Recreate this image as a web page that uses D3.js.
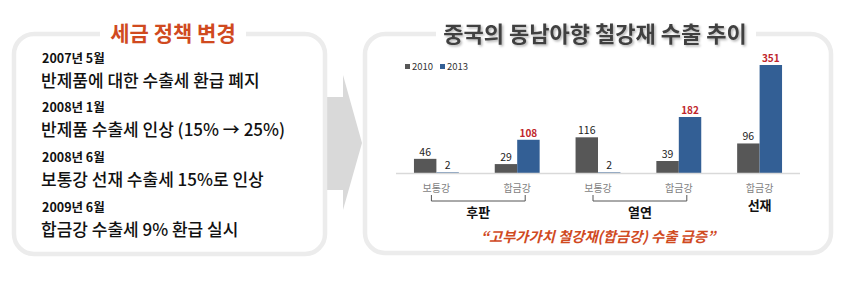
<!DOCTYPE html>
<html><head><meta charset="utf-8">
<script src="https://cdn.jsdelivr.net/npm/d3@7"></script>
<style>
body{margin:0;background:#fff;}
svg{display:block;font-family:"Noto Sans CJK KR","Noto Sans",sans-serif;}
</style></head>
<body>
<svg id="c" width="845" height="281"></svg>
<script>
// ---- data ----
const policyDates = ["2007년 5월","2008년 1월","2008년 6월","2009년 6월"];
const policyTexts = ["반제품에 대한 수출세 환급 폐지","반제품 수출세 인상 (15% → 25%)","보통강 선재 수출세 15%로 인상","합금강 수출세 9% 환급 실시"];
const categories = ["보통강","합금강","보통강","합금강","합금강"];
const groupNames = ["후판","열연","선재"];
const series = ["2010","2013"];
const values2010 = [46,29,116,39,96];
const values2013 = [2,108,2,182,351];

const svg = d3.select("#c");
const red = "#d04a1f";

const defs = svg.append("defs");
defs.append("filter").attr("id","sh").attr("x","-10%").attr("y","-30%").attr("width","120%").attr("height","160%")
  .append("feDropShadow").attr("dx",1.5).attr("dy",1.5).attr("stdDeviation",1).attr("flood-color","#000").attr("flood-opacity",0.3);

// boxes
function box(x,y,w,h){
  svg.append("rect").attr("x",x).attr("y",y).attr("width",w).attr("height",h)
    .attr("rx",20).attr("fill","#fff").attr("stroke","#ececec").attr("stroke-width",4.5);
}
// arrow
svg.append("path").attr("d","M326,97 L343,97 L343,75 L362,143 L343,210 L343,190 L326,190 Z").attr("fill","#d9d9d9");
box(14,34,311,220);
box(365,34,466,219);

// left title
svg.append("rect").attr("x",100).attr("y",26).attr("width",146).attr("height",14).attr("fill","#fff");
svg.append("text").attr("x",173).attr("y",41).attr("text-anchor","middle")
  .attr("font-size",21).attr("font-weight","bold").attr("fill",red).text("세금 정책 변경");

const dateY = [59,108,158,208];
policyDates.forEach((d,i)=>{
  svg.append("text").attr("x",42).attr("y",dateY[i]+4).attr("font-size",12.5).attr("font-weight","bold").attr("fill","#111").text(d);
  svg.append("text").attr("x",41).attr("y",dateY[i]+28).attr("font-size",17).attr("font-weight","500").attr("fill","#111").text(policyTexts[i]);
});

// right title
svg.append("rect").attr("x",436).attr("y",26).attr("width",320).attr("height",14).attr("fill","#fff");
svg.append("text").attr("x",595).attr("y",42).attr("text-anchor","middle").attr("filter","url(#sh)")
  .attr("font-size",22).attr("font-weight","bold").attr("fill","#404040").text("중국의 동남아향 철강재 수출 추이");

// chart
const x0 = d3.scaleBand().domain(d3.range(categories.length)).range([396,800]).paddingInner(0).paddingOuter(0);
const x1 = d3.scaleBand().domain(series).range([0,x0.bandwidth()]).paddingInner(0).paddingOuter(0.8);
const y = d3.scaleLinear().domain([0,351]).range([173,65]);
const colors = {"2010":"#575757","2013":"#335f95"};

const g = svg.append("g");
categories.forEach((c,i)=>{
  const vals = {"2010":values2010[i],"2013":values2013[i]};
  series.forEach(s=>{
    const v = vals[s];
    const bx = x0(i)+x1(s);
    g.append("rect").attr("x",bx).attr("y",y(v)).attr("width",x1.bandwidth()).attr("height",y(0)-y(v)).attr("fill",colors[s]);
    const isRed = s==="2013" && v>50;
    g.append("text").attr("x",bx+x1.bandwidth()/2).attr("y",y(v)-3).attr("text-anchor","middle")
      .attr("font-size",isRed?10:10.5).attr("font-weight",isRed?"bold":"normal")
      .attr("fill",isRed?"#c0262c":"#222").text(v);
  });
});
// baseline
g.append("line").attr("x1",396).attr("x2",800).attr("y1",y(0)+0.5).attr("y2",y(0)+0.5).attr("stroke","#d9d9d9").attr("stroke-width",1.5);

// category labels
categories.forEach((c,i)=>{
  g.append("text").attr("x",x0(i)+x0.bandwidth()/2).attr("y",192).attr("text-anchor","middle")
    .attr("font-size",10).attr("fill","#7f7f7f").text(c);
});
// brackets
const cx = i=>x0(i)+x0.bandwidth()/2;
[[0,1],[2,3]].forEach(([a,b],k)=>{
  const l = cx(a)-5, r = cx(b)+8;
  g.append("path").attr("d",`M${l},195 L${l},201 L${r},201 L${r},195`).attr("fill","none").attr("stroke","#555").attr("stroke-width",1);
  g.append("text").attr("x",(l+r)/2).attr("y",217).attr("text-anchor","middle")
    .attr("font-size",13).attr("font-weight","bold").attr("fill","#111").text(groupNames[k]);
});
g.append("text").attr("x",cx(4)).attr("y",210).attr("text-anchor","middle")
  .attr("font-size",13).attr("font-weight","bold").attr("fill","#111").text(groupNames[2]);

// legend
const leg = g.append("g").attr("transform","translate(405,68)");
series.forEach((s,i)=>{
  const lx = i*35;
  leg.append("rect").attr("x",lx).attr("y",-4).attr("width",5).attr("height",5).attr("fill",colors[s]);
  leg.append("text").attr("x",lx+7).attr("y",1.5).attr("font-size",9.5).attr("fill","#333").text(s);
});

// quote
svg.append("text").attr("x",598).attr("y",242).attr("text-anchor","middle")
  .attr("font-size",14.3).attr("font-weight","bold").attr("font-style","italic").attr("fill",red)
  .text("“고부가가치 철강재(합금강) 수출 급증”");
</script>
</body></html>
